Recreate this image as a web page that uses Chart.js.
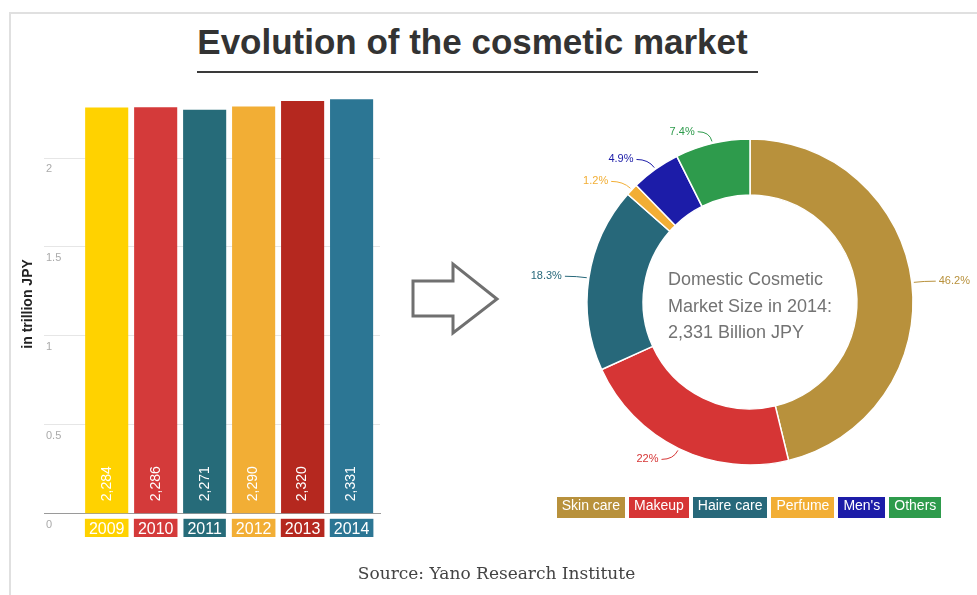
<!DOCTYPE html>
<html>
<head>
<meta charset="utf-8">
<script src="https://cdn.jsdelivr.net/npm/chart.js@4.4.1/dist/chart.umd.min.js"></script>
<style>
  html, body { margin: 0; padding: 0; background: #fff; }
  #page { position: relative; width: 977px; height: 595px; overflow: hidden; background: #fff;
          font-family: 'Liberation Sans', Arial, sans-serif; }
  #frame { position: absolute; left: 9px; top: 12px; width: 980px; height: 600px;
           border-top: 2px solid #e0e0e0; border-left: 2px solid #e0e0e0; }
  #title { position: absolute; left: 0; width: 945px; top: 22px; text-align: center;
           font: bold 35px 'Liberation Sans', Arial, sans-serif; color: #333; }
  #rule { position: absolute; left: 197px; top: 71px; width: 561px; height: 2px; background: #3a3a3a; }
  #bars { position: absolute; left: 0; top: 0; }
  #ring { position: absolute; left: 500px; top: 0; }
  #arrow { position: absolute; left: 400px; top: 250px; }
  #legend { position: absolute; left: 500px; width: 498px; top: 497px; display: flex;
            justify-content: center; gap: 4px; }
  #legend span { display: block; height: 21px; line-height: 21px; padding: 0 5px; color: #fff;
                 font: 14px 'Liberation Sans', Arial, sans-serif; }
  #source { position: absolute; left: 0; width: 993px; top: 563px; text-align: center;
            font: 17px 'DejaVu Serif', serif; color: #444; }
</style>
</head>
<body>
<div id="page">
  <div id="frame"></div>
  <div id="title">Evolution of the cosmetic market</div>
  <div id="rule"></div>
  <canvas id="bars" width="400" height="595"></canvas>
  <svg id="arrow" width="110" height="100" viewBox="0 0 110 100">
    <polygon points="13,31 53,31 53,14 97,49 53,83 53,66 13,66"
             fill="none" stroke="#707070" stroke-width="3" stroke-linejoin="miter"/>
  </svg>
  <canvas id="ring" width="477" height="595"></canvas>
  <div id="legend"></div>
  <div id="source">Source: Yano Research Institute</div>
</div>

<script>
// Market size by year, in trillion JPY
const years = ['2009', '2010', '2011', '2012', '2013', '2014'];
const marketSize = [2.284, 2.286, 2.271, 2.290, 2.320, 2.331];
const yearColors = ['#ffd200', '#d43a3a', '#266b79', '#f2ae35', '#b5281f', '#2c7694'];
const yTicks = [0, 0.5, 1, 1.5, 2];

// 2014 market split by segment, in percent
const segments = ['Skin care', 'Makeup', 'Haire care', 'Perfume', "Men's", 'Others'];
const shares = [46.2, 22, 18.3, 1.2, 4.9, 7.4];
const segmentColors = ['#b8913c', '#d63535', '#27687a', '#f2ae35', '#1c1ca8', '#2e9b4c'];

const SANS = "'Liberation Sans', Arial, sans-serif";
Chart.defaults.font.family = SANS;

// "2,284" style: trillions shown as billions with a thousands separator
const asBillions = v => Math.round(v * 1000).toLocaleString('en-US');

// Value written vertically near the foot of each bar
const barValueLabels = {
  id: 'barValueLabels',
  afterDatasetsDraw(chart) {
    const { ctx } = chart;
    const meta = chart.getDatasetMeta(0);
    const values = chart.data.datasets[0].data;
    ctx.save();
    ctx.fillStyle = '#ffffff';
    ctx.font = '14px ' + SANS;
    ctx.textAlign = 'left';
    ctx.textBaseline = 'middle';
    meta.data.forEach((bar, i) => {
      ctx.save();
      ctx.translate(bar.x, bar.base - 12);
      ctx.rotate(-Math.PI / 2);
      ctx.fillText(asBillions(values[i]), 0, 0);
      ctx.restore();
    });
    ctx.restore();
  }
};

new Chart(document.getElementById('bars'), {
  type: 'bar',
  data: {
    labels: years,
    datasets: [{
      data: marketSize,
      backgroundColor: yearColors,
      borderWidth: 0,
      categoryPercentage: 1,
      barPercentage: 0.88
    }]
  },
  options: {
    responsive: false,
    animation: false,
    layout: { padding: { left: 17.6, right: 20, top: 94, bottom: 58 } },
    plugins: { legend: { display: false }, tooltip: { enabled: false } },
    scales: {
      x: {
        type: 'linear',
        offset: false,
        min: 2007.72,
        max: 2014.58,
        afterBuildTicks: scale => { scale.ticks = years.map(y => ({ value: +y })); },
        grid: { display: false, offset: false },
        border: { display: true, color: '#9a9a9a', width: 1 },
        ticks: {
          callback: v => String(v),
          color: '#ffffff',
          font: { size: 16 },
          padding: -2,
          maxRotation: 0,
          autoSkip: false,
          showLabelBackdrop: true,
          backdropColor: c => yearColors[c.index],
          backdropPadding: { left: 4, right: 4, top: 1, bottom: 0 }
        }
      },
      y: {
        min: 0,
        max: 2.36,
        afterBuildTicks: scale => { scale.ticks = yTicks.map(v => ({ value: v })); },
        grid: { color: '#e6e6e6', drawTicks: false },
        border: { display: false },
        ticks: {
          callback: v => String(v),
          mirror: true,
          padding: 2,
          labelOffset: 11,
          color: '#aaaaaa',
          font: { size: 11 }
        },
        title: {
          display: true,
          text: 'in trillion JPY',
          color: '#222',
          font: { size: 14, weight: 'bold' },
          padding: { top: 2, bottom: 3.6 }
        }
      }
    }
  },
  plugins: [barValueLabels]
});

// Percent callouts outside the ring, with a short curved leader
const ringCallouts = {
  id: 'ringCallouts',
  afterDatasetsDraw(chart) {
    const { ctx } = chart;
    const ds = chart.data.datasets[0];
    ctx.save();
    ctx.font = '11px ' + SANS;
    ctx.textBaseline = 'middle';
    ctx.lineWidth = 1;
    chart.getDatasetMeta(0).data.forEach((arc, i) => {
      const { x, y, startAngle, endAngle, outerRadius } =
        arc.getProps(['x', 'y', 'startAngle', 'endAngle', 'outerRadius'], true);
      const mid = (startAngle + endAngle) / 2;
      const c = Math.cos(mid), s = Math.sin(mid);
      const dir = c >= 0 ? 1 : -1;
      const x0 = x + c * (outerRadius + 2), y0 = y + s * (outerRadius + 2);
      const x1 = x + c * (outerRadius + 12), y1 = y + s * (outerRadius + 12);
      const x2 = x1 + dir * 12, y2 = y1;
      const col = ds.backgroundColor[i];
      ctx.strokeStyle = col;
      ctx.fillStyle = col;
      ctx.beginPath();
      ctx.moveTo(x0, y0);
      ctx.quadraticCurveTo(x1, y1, x2, y2);
      ctx.stroke();
      ctx.textAlign = dir > 0 ? 'left' : 'right';
      ctx.fillText(ds.data[i] + '%', x2 + dir * 3, y2);
    });
    ctx.restore();
  }
};

// Market size statement inside the ring
const ringCenterText = {
  id: 'ringCenterText',
  afterDatasetsDraw(chart) {
    const { ctx } = chart;
    const arc = chart.getDatasetMeta(0).data[0];
    const lines = [
      'Domestic Cosmetic',
      'Market Size in ' + years[years.length - 1] + ':',
      asBillions(marketSize[marketSize.length - 1]) + ' Billion JPY'
    ];
    ctx.save();
    ctx.font = '18px ' + SANS;
    ctx.fillStyle = '#737373';
    ctx.textAlign = 'left';
    ctx.textBaseline = 'middle';
    const w = Math.max(...lines.map(l => ctx.measureText(l).width));
    const left = arc.x - w / 2;
    lines.forEach((l, i) => ctx.fillText(l, left, arc.y + 5 + (i - 1) * 26.5));
    ctx.restore();
  }
};

const ring = new Chart(document.getElementById('ring'), {
  type: 'doughnut',
  data: {
    labels: segments,
    datasets: [{
      data: shares,
      backgroundColor: segmentColors,
      borderColor: '#ffffff',
      borderWidth: 1.5
    }]
  },
  options: {
    responsive: false,
    animation: false,
    radius: 163,
    cutout: '65.6%',
    layout: { padding: { left: 43, right: 20, top: 19, bottom: 10 } },
    plugins: { legend: { display: false }, tooltip: { enabled: false } }
  },
  plugins: [ringCallouts, ringCenterText]
});

// Legend chips built from the ring's own labels and colours
const legendBox = document.getElementById('legend');
ring.data.labels.forEach((label, i) => {
  const chip = document.createElement('span');
  chip.textContent = label;
  chip.style.background = ring.data.datasets[0].backgroundColor[i];
  legendBox.appendChild(chip);
});
</script>
</body>
</html>
